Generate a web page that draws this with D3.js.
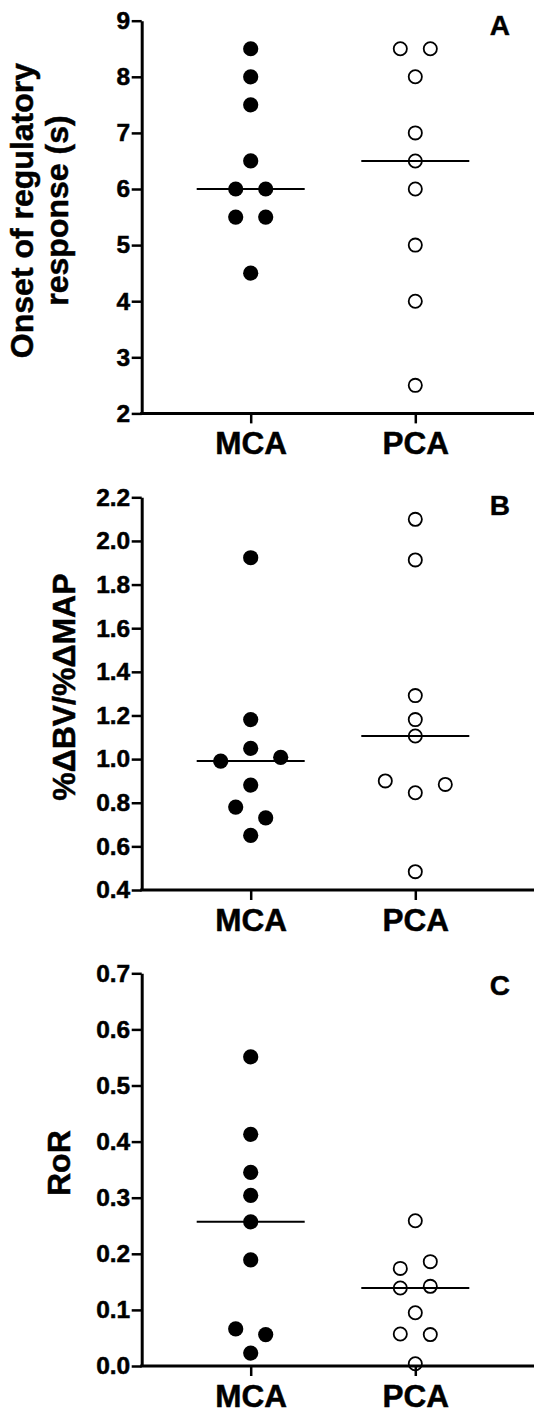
<!DOCTYPE html>
<html><head><meta charset="utf-8">
<script src="https://cdn.jsdelivr.net/npm/d3@7"></script>
<style>
body{margin:0;background:#fff}
svg{display:block}
text{font-family:"Liberation Sans",Arial,Helvetica,sans-serif;font-weight:bold;fill:#000}
</style>
</head><body>
<svg id="chart" width="534" height="1412"></svg>
<script>
// ---- data ----
const groups = ["MCA", "PCA"];
const panelLetters = ["A", "B", "C"];
const yTitles = [["Onset of regulatory", "response (s)"], ["%ΔBV/%ΔMAP"], ["RoR"]];
const yDomains = [[2, 9], [0.4, 2.2], [0, 0.7]];
const yTicksA = [2, 3, 4, 5, 6, 7, 8, 9];
const yTicksB = [0.4, 0.6, 0.8, 1.0, 1.2, 1.4, 1.6, 1.8, 2.0, 2.2];
const yTicksC = [0.0, 0.1, 0.2, 0.3, 0.4, 0.5, 0.6, 0.7];

// Panel A: onset of regulatory response (s)
const onsetMCA = [8.5, 8.0, 7.5, 6.5, 6.0, 6.0, 5.5, 5.5, 4.5];
const onsetMCASlot = [0, 0, 0, 0, -1, 1, -1, 1, 0];
const onsetPCA = [8.5, 8.5, 8.0, 7.0, 6.5, 6.0, 5.0, 4.0, 2.5];
const onsetPCASlot = [-1, 1, 0, 0, 0, 0, 0, 0, 0];

// Panel B: %ΔBV/%ΔMAP
const gainMCA = [1.923, 1.181, 1.049, 0.991, 1.008, 0.881, 0.780, 0.731, 0.650];
const gainMCASlot = [0, 0, 0, -2, 2, 0, -1, 1, 0];
const gainPCA = [2.099, 1.913, 1.291, 1.181, 1.106, 0.900, 0.884, 0.846, 0.484];
const gainPCASlot = [0, 0, 0, 0, 0, -2, 2, 0, 0];

// Panel C: RoR
const rorMCA = [0.551, 0.413, 0.345, 0.304, 0.257, 0.189, 0.066, 0.056, 0.023];
const rorMCASlot = [0, 0, 0, 0, 0, 0, -1, 1, 0];
const rorPCA = [0.259, 0.186, 0.174, 0.139, 0.142, 0.095, 0.057, 0.056, 0.004];
const rorPCASlot = [0, 1, -1, -1, 1, 0, -1, 1, 0];

// ---- layout / style ----
const svg = d3.select("#chart");
const axisX = 141.7;
const rightEdge = 534;
const panelTops = [20.7, 497.3, 973.3];
const plotH = 392.7;
const slotStep = 15;
const halfMedian = 54;
const tickFmt = [d3.format("d"), d3.format(".1f"), d3.format(".1f")];
const tickSets = [yTicksA, yTicksB, yTicksC];
const panelData = [
  [[onsetMCA, onsetMCASlot], [onsetPCA, onsetPCASlot]],
  [[gainMCA, gainMCASlot], [gainPCA, gainPCASlot]],
  [[rorMCA, rorMCASlot], [rorPCA, rorPCASlot]]
];
const titleBaselines = [[33.3, 68.3], [74.5], [70]];
const letterBaselines = [35, 515, 995];
const FONT = '"Liberation Sans",Arial,Helvetica,sans-serif';

function boldText(sel, size, color) {
  sel.style("font-size", size + "px").style("font-family", FONT).style("font-weight", "bold")
    .attr("fill", color || "#000").attr("stroke", color || "#000").attr("stroke-width", 0.5)
    .attr("paint-order", "stroke");
}

const x = d3.scalePoint().domain(groups).range([250.7, 415.3]);

panelData.forEach((pd, i) => {
  const top = panelTops[i], bottom = top + plotH;
  const y = d3.scaleLinear().domain(yDomains[i]).range([bottom, top]);
  const g = svg.append("g");

  // y axis
  const ya = g.append("g").attr("transform", `translate(${axisX},0)`)
    .call(d3.axisLeft(y).tickValues(tickSets[i]).tickFormat(tickFmt[i])
      .tickSize(10).tickSizeOuter(0).tickPadding(1.5));
  ya.select(".domain").attr("stroke-width", 3).attr("stroke", "#000");
  ya.selectAll(".tick line").attr("stroke-width", 2.5).attr("stroke", "#000");
  boldText(ya.selectAll(".tick text"), 24.5);

  // x axis
  const xa = g.append("g").attr("transform", `translate(0,${bottom})`)
    .call(d3.axisBottom(x).tickSize(10).tickSizeOuter(0).tickPadding(4));
  xa.select(".domain").remove();
  xa.selectAll(".tick line").attr("stroke-width", 2.5).attr("stroke", "#000");
  const xt = xa.selectAll(".tick text").attr("y", 0).attr("dy", 0).attr("transform", "translate(0,40.5)");
  boldText(xt, 31.5);
  g.append("line").attr("x1", axisX - 1.5).attr("x2", rightEdge)
    .attr("y1", bottom).attr("y2", bottom)
    .attr("stroke", "#000").attr("stroke-width", 3);

  // points
  pd.forEach(([vals, slots], gi) => {
    const cx = x(groups[gi]);
    const filled = gi === 0;
    g.append("g").selectAll("circle").data(vals).join("circle")
      .attr("cx", (d, k) => cx + slots[k] * slotStep)
      .attr("cy", d => y(d))
      .attr("r", filled ? 7.6 : 6.6)
      .attr("fill", filled ? "#000" : "none")
      .attr("stroke", filled ? "none" : "#000")
      .attr("stroke-width", 1.8);
    const med = d3.median(vals);
    g.append("line").attr("x1", cx - halfMedian).attr("x2", cx + halfMedian)
      .attr("y1", y(med)).attr("y2", y(med))
      .attr("stroke", "#000").attr("stroke-width", 2);
  });

  // y title
  const cy = (top + bottom) / 2 - 6.5;
  yTitles[i].forEach((t, li) => {
    const tt = g.append("text")
      .attr("transform", `translate(${titleBaselines[i][li]},${cy}) rotate(-90)`)
      .attr("text-anchor", "middle")
      .text(t);
    boldText(tt, 32);
  });

  // panel letter
  const lt = g.append("text").attr("x", 510).attr("y", letterBaselines[i])
    .attr("text-anchor", "end").text(panelLetters[i]);
  boldText(lt, 28, "#333");
});
</script>
</body></html>
